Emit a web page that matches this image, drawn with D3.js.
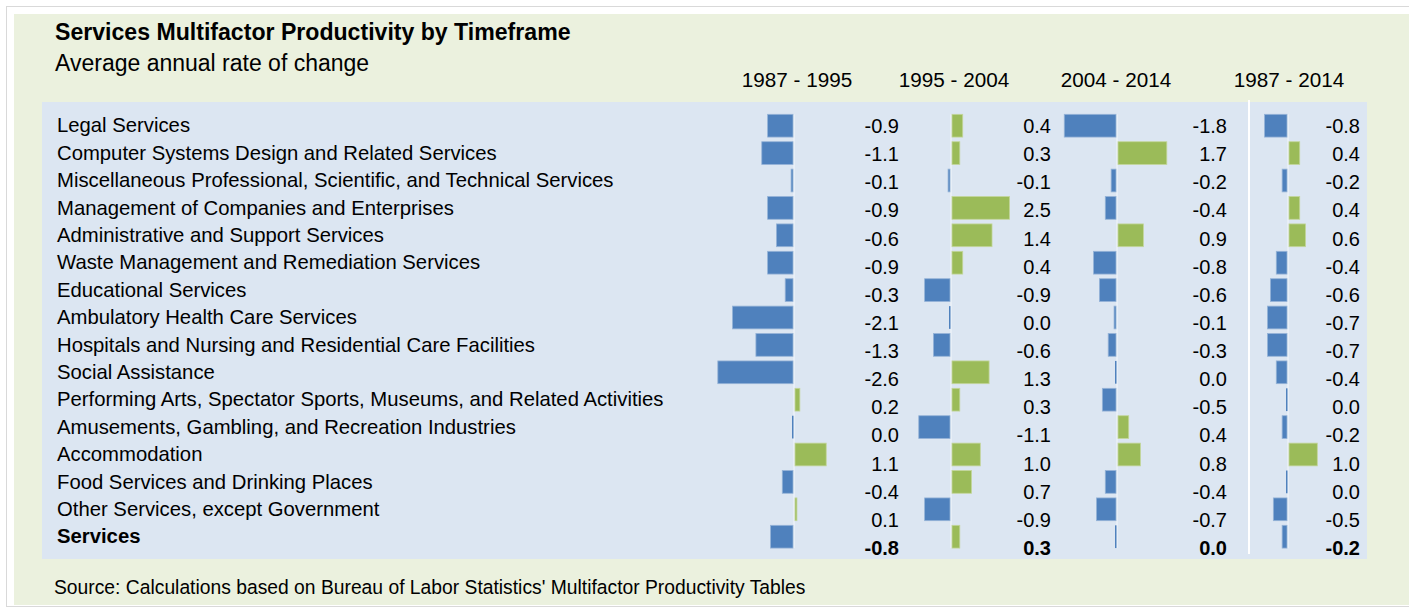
<!DOCTYPE html>
<html>
<head>
  <meta charset="utf-8">
  <script src="https://d3js.org/d3.v7.min.js"></script>
  <style>
    body { margin: 0; background: #fff; }
    text { font-family: "Liberation Sans", Arial, sans-serif; fill: #000; }
  </style>
</head>
<body>
  <svg id="chart" width="1409" height="608"></svg>
  <script>
    // data
    const categories = [
      "Legal Services",
      "Computer Systems Design and Related Services",
      "Miscellaneous Professional, Scientific, and Technical Services",
      "Management of Companies and Enterprises",
      "Administrative and Support Services",
      "Waste Management and Remediation Services",
      "Educational Services",
      "Ambulatory Health Care Services",
      "Hospitals and Nursing and Residential Care Facilities",
      "Social Assistance",
      "Performing Arts, Spectator Sports, Museums, and Related Activities",
      "Amusements, Gambling, and Recreation Industries",
      "Accommodation",
      "Food Services and Drinking Places",
      "Other Services, except Government",
      "Services"
    ];
    const timeframes = ["1987 - 1995", "1995 - 2004", "2004 - 2014", "1987 - 2014"];
    const v1987_1995 = [-0.9, -1.1, -0.1, -0.9, -0.6, -0.9, -0.3, -2.1, -1.3, -2.6, 0.2, 0.0, 1.1, -0.4, 0.1, -0.8];
    const v1995_2004 = [0.4, 0.3, -0.1, 2.5, 1.4, 0.4, -0.9, 0.0, -0.6, 1.3, 0.3, -1.1, 1.0, 0.7, -0.9, 0.3];
    const v2004_2014 = [-1.8, 1.7, -0.2, -0.4, 0.9, -0.8, -0.6, -0.1, -0.3, 0.0, -0.5, 0.4, 0.8, -0.4, -0.7, 0.0];
    const v1987_2014 = [-0.8, 0.4, -0.2, 0.4, 0.6, -0.4, -0.6, -0.7, -0.7, -0.4, 0.0, -0.2, 1.0, 0.0, -0.5, -0.2];
    const series = [v1987_1995, v1995_2004, v2004_2014, v1987_2014];

    const svg = d3.select("svg#chart");
    const width = +svg.attr("width");
    const height = +svg.attr("height");

    const blue = "#4f81bd", green = "#9bbb59";

    // outer frame and backgrounds
    svg.append("rect").attr("x", 6.5).attr("y", 6.5).attr("width", width - 4).attr("height", height - 8)
      .attr("fill", "none").attr("stroke", "#d9d9d9");
    svg.append("rect").attr("x", 14).attr("y", 14).attr("width", width - 14).attr("height", 591)
      .attr("fill", "#ebf1de");
    svg.append("rect").attr("x", 42).attr("y", 102).attr("width", 1325).attr("height", 457)
      .attr("fill", "#dce6f2");

    // titles
    svg.append("text").attr("x", 55).attr("y", 40).text("Services Multifactor Productivity by Timeframe")
      .style("font-size", "23.1px").style("font-weight", "bold");
    svg.append("text").attr("x", 55).attr("y", 71).text("Average annual rate of change")
      .style("font-size", "23px");
    svg.append("text").attr("x", 54).attr("y", 594)
      .text("Source: Calculations based on Bureau of Labor Statistics' Multifactor Productivity Tables")
      .style("font-size", "19.3px");

    // rows
    const y = d3.scaleBand().domain(categories).range([112, 112 + 27.4 * 16])
      .paddingInner(0.17).paddingOuter(0.085);
    const yVal = d3.scaleBand().domain(categories).range([112, 112 + 28.13 * 16]);

    svg.append("g").selectAll("text")
      .data(categories)
      .join("text")
      .attr("x", 57)
      .attr("y", d => y(d) + y.bandwidth() / 2)
      .attr("dy", "0.33em")
      .style("font-size", "20.3px")
      .style("font-weight", d => d === "Services" ? "bold" : "normal")
      .text(d => d);

    // one panel per timeframe
    const zeroX = [794, 951, 1117, 1288];
    const labelX = [899, 1051, 1227, 1360];
    const headX = [797, 954, 1116, 1289];
    const pxPerUnit = 29.3;

    // separator before the overall period
    svg.append("line").attr("x1", 1249).attr("x2", 1249).attr("y1", 100).attr("y2", 554)
      .attr("stroke", "#fff").attr("stroke-width", 2);

    series.forEach((vals, p) => {
      const x = d3.scaleLinear()
        .domain([-3, 2])
        .range([zeroX[p] - 3 * pxPerUnit, zeroX[p] + 2 * pxPerUnit])
        .clamp(true);
      const g = svg.append("g").attr("class", "panel");
      const rows = categories.map((c, i) => ({ cat: c, v: vals[i] }));

      // zero line
      g.append("line").attr("x1", x(0)).attr("x2", x(0))
        .attr("y1", y(categories[0])).attr("y2", y(categories[15]) + y.bandwidth())
        .attr("stroke", "#f4f7fb").attr("stroke-width", 1);

      g.selectAll("rect")
        .data(rows)
        .join("rect")
        .attr("x", d => d.v > 0 ? x(0) + 1 : (d.v === 0 ? x(0) - 2 : x(d.v)))
        .attr("width", d => d.v === 0 ? 1.5 : Math.abs(x(d.v) - x(0)) - 1)
        .attr("y", d => y(d.cat))
        .attr("height", y.bandwidth())
        .attr("fill", d => d.v > 0 ? green : blue)
        .attr("stroke", d => d.v > 0 ? "#c3d69b" : "#95b3d7")
        .attr("stroke-width", d => d.v === 0 ? 0 : 0.8);

      g.selectAll("text.val")
        .data(rows)
        .join("text")
        .attr("class", "val")
        .attr("x", labelX[p])
        .attr("y", d => yVal(d.cat) + yVal.bandwidth() / 2)
        .attr("dy", "0.35em")
        .attr("text-anchor", "end")
        .style("font-size", "20px")
        .style("font-weight", d => d.cat === "Services" ? "bold" : "normal")
        .text(d => d.v.toFixed(1));

      svg.append("text")
        .attr("x", headX[p])
        .attr("y", 87)
        .attr("text-anchor", "middle")
        .style("font-size", "20.7px")
        .text(timeframes[p]);
    });
  </script>
</body>
</html>
